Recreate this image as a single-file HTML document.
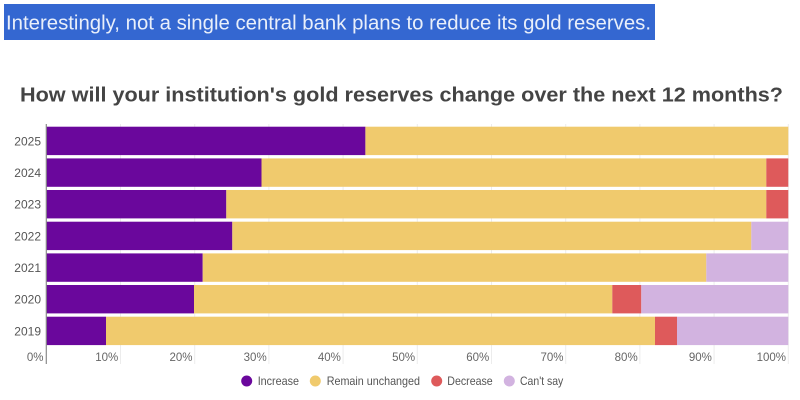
<!DOCTYPE html>
<html><head><meta charset="utf-8"><style>
html,body{margin:0;padding:0;background:#fff;width:800px;height:400px;overflow:hidden}
svg{display:block}
</style></head><body>
<svg width="800" height="400" viewBox="0 0 800 400" xmlns="http://www.w3.org/2000/svg" font-family="Liberation Sans, sans-serif">
<rect x="4" y="4" width="651" height="36" fill="#3467d1"/>
<text x="6" y="29.5" font-size="20" fill="#e9effa" textLength="645" lengthAdjust="spacingAndGlyphs">Interestingly, not a single central bank plans to reduce its gold reserves.</text>
<text x="20" y="101.7" font-size="20" font-weight="bold" fill="#444" textLength="763" lengthAdjust="spacingAndGlyphs">How will your institution's gold reserves change over the next 12 months?</text>
<g stroke="#ececec" stroke-width="1">
<line x1="120.5" y1="124" x2="120.5" y2="364"/>
<line x1="194.7" y1="124" x2="194.7" y2="364"/>
<line x1="268.9" y1="124" x2="268.9" y2="364"/>
<line x1="343.1" y1="124" x2="343.1" y2="364"/>
<line x1="417.3" y1="124" x2="417.3" y2="364"/>
<line x1="491.5" y1="124" x2="491.5" y2="364"/>
<line x1="565.7" y1="124" x2="565.7" y2="364"/>
<line x1="639.9" y1="124" x2="639.9" y2="364"/>
<line x1="714.1" y1="124" x2="714.1" y2="364"/>
<line x1="788.3" y1="124" x2="788.3" y2="364"/>
</g>
<g>
<!-- 2025 -->
<rect x="46.3" y="126.7" width="319.1" height="28.4" fill="#6a079c"/>
<rect x="365.4" y="126.7" width="422.9" height="28.4" fill="#f0ca6d"/>
<!-- 2024 -->
<rect x="46.3" y="158.4" width="215.2" height="28.4" fill="#6a079c"/>
<rect x="261.5" y="158.4" width="504.8" height="28.4" fill="#f0ca6d"/>
<rect x="766.3" y="158.4" width="22" height="28.4" fill="#de5a5b"/>
<!-- 2023 -->
<rect x="46.3" y="190" width="180" height="28.4" fill="#6a079c"/>
<rect x="226.3" y="190" width="540" height="28.4" fill="#f0ca6d"/>
<rect x="766.3" y="190" width="22" height="28.4" fill="#de5a5b"/>
<!-- 2022 -->
<rect x="46.3" y="221.7" width="186" height="28.4" fill="#6a079c"/>
<rect x="232.3" y="221.7" width="519" height="28.4" fill="#f0ca6d"/>
<rect x="751.3" y="221.7" width="37" height="28.4" fill="#d2b3e0"/>
<!-- 2021 -->
<rect x="46.3" y="253.4" width="156.4" height="28.4" fill="#6a079c"/>
<rect x="202.7" y="253.4" width="503.6" height="28.4" fill="#f0ca6d"/>
<rect x="706.3" y="253.4" width="82" height="28.4" fill="#d2b3e0"/>
<!-- 2020 -->
<rect x="46.3" y="285" width="147.7" height="28.4" fill="#6a079c"/>
<rect x="194" y="285" width="418.3" height="28.4" fill="#f0ca6d"/>
<rect x="612.3" y="285" width="29" height="28.4" fill="#de5a5b"/>
<rect x="641.3" y="285" width="147" height="28.4" fill="#d2b3e0"/>
<!-- 2019 -->
<rect x="46.3" y="316.7" width="59.7" height="28.4" fill="#6a079c"/>
<rect x="106" y="316.7" width="549" height="28.4" fill="#f0ca6d"/>
<rect x="655" y="316.7" width="22" height="28.4" fill="#de5a5b"/>
<rect x="677" y="316.7" width="111.3" height="28.4" fill="#d2b3e0"/>
</g>
<line x1="46.3" y1="124" x2="46.3" y2="364" stroke="#8a8a8a" stroke-width="1.2"/>
<g font-size="12" fill="#555" text-anchor="end">
<text x="41" y="145.3">2025</text>
<text x="41" y="177">2024</text>
<text x="41" y="208.6">2023</text>
<text x="41" y="240.3">2022</text>
<text x="41" y="272">2021</text>
<text x="41" y="303.6">2020</text>
<text x="41" y="335.3">2019</text>
</g>
<g font-size="11.5" fill="#666" text-anchor="end">
<text x="43.5" y="361">0%</text>
<text x="118.3" y="361">10%</text>
<text x="192.5" y="361">20%</text>
<text x="266.7" y="361">30%</text>
<text x="340.9" y="361">40%</text>
<text x="415.1" y="361">50%</text>
<text x="489.3" y="361">60%</text>
<text x="563.5" y="361">70%</text>
<text x="637.7" y="361">80%</text>
<text x="711.9" y="361">90%</text>
<text x="786" y="361">100%</text>
</g>
<g font-size="12" fill="#555">
<circle cx="246.7" cy="381" r="5.5" fill="#6a079c"/>
<text x="257.7" y="385.2" textLength="41.3" lengthAdjust="spacingAndGlyphs">Increase</text>
<circle cx="315.3" cy="381" r="5.5" fill="#f0ca6d"/>
<text x="326.7" y="385.2" textLength="93.3" lengthAdjust="spacingAndGlyphs">Remain unchanged</text>
<circle cx="436.7" cy="381" r="5.5" fill="#de5a5b"/>
<text x="447.3" y="385.2" textLength="45.4" lengthAdjust="spacingAndGlyphs">Decrease</text>
<circle cx="509.3" cy="381" r="5.5" fill="#d2b3e0"/>
<text x="520" y="385.2" textLength="43.3" lengthAdjust="spacingAndGlyphs">Can't say</text>
</g>
</svg>
</body></html>
